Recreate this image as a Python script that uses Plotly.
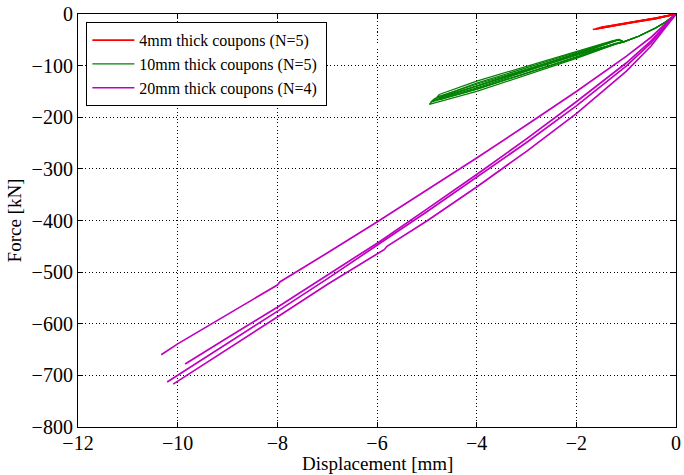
import plotly.graph_objects as go

# ---------------- data ----------------
# 4 mm coupons (N=5): displacement [mm], force [kN]
red_x = [
    [0, -0.20, -0.40, -0.80, -1.20, -1.67],
    [0, -0.20, -0.40, -0.80, -1.20, -1.62],
    [0, -0.20, -0.40, -0.80, -1.20, -1.55],
    [0, -0.20, -0.40, -0.80, -1.20, -1.60],
    [0, -0.20, -0.40, -0.80, -1.20, -1.50],
]
red_y = [
    [0, -4.5, -8.0, -14.5, -21.0, -30.0],
    [0, -4.8, -8.5, -15.0, -22.0, -29.5],
    [0, -4.5, -8.0, -14.0, -20.5, -27.0],
    [0, -5.0, -9.0, -15.5, -22.0, -28.5],
    [0, -4.8, -8.5, -14.5, -21.0, -26.0],
]

# 10 mm coupons (N=5): loading out and unloading back
green_x = [
    [0, -0.20, -0.41, -0.75, -1.05, -1.20, -2.0, -3.0, -4.0, -4.95, -4.90, -4.0, -3.0, -2.0, -1.30, -1.15, -1.05],
    [0, -0.20, -0.41, -0.75, -1.05, -1.22, -2.0, -3.0, -4.0, -4.92, -4.86, -4.0, -3.0, -2.0, -1.30, -1.17, -1.05],
    [0, -0.20, -0.41, -0.75, -1.05, -1.18, -2.0, -3.0, -4.0, -4.80, -4.75, -4.0, -3.0, -2.0, -1.28, -1.14, -1.05],
    [0, -0.20, -0.41, -0.75, -1.05, -1.20, -2.0, -3.0, -4.0, -4.75, -4.70, -4.0, -3.0, -2.0, -1.30, -1.16, -1.05],
    [0, -0.20, -0.41, -0.75, -1.05, -1.21, -2.0, -3.0, -4.0, -4.88, -4.83, -4.0, -3.0, -2.0, -1.30, -1.15, -1.05],
]
green_y = [
    [0, -15, -27, -43, -54, -58, -86, -118, -150, -175, -169, -143, -111, -79, -55, -50, -54],
    [0, -15, -27, -43, -54, -57, -83, -114, -145, -171, -165, -139, -108, -77, -54, -50, -54],
    [0, -15, -27, -43, -54, -57, -78, -107, -136, -161, -156, -130, -101, -72, -52, -49, -54],
    [0, -15, -27, -43, -54, -58, -84, -115, -146, -166, -160, -140, -109, -78, -55, -50, -54],
    [0, -15, -27, -43, -54, -58, -80, -110, -140, -168, -163, -134, -104, -74, -53, -49, -54],
]

# 20 mm coupons (N=4)
mag_x = [
    [0, -0.5, -1.0, -2.0, -3.0, -4.0, -5.0, -6.0, -7.0, -7.95, -8.0, -9.0, -10.0, -10.33],
    [0, -0.5, -1.0, -2.0, -3.0, -4.0, -5.0, -5.90, -5.95, -7.0, -8.0, -9.0, -9.85],
    [0, -0.5, -1.0, -2.0, -3.0, -4.0, -5.0, -6.0, -7.0, -8.0, -9.0, -10.0, -10.21],
    [0, -0.5, -1.0, -2.0, -3.0, -4.0, -5.0, -5.80, -5.85, -7.0, -8.0, -9.0, -10.09],
]
mag_y = [
    [0, -45, -82, -150, -215, -279, -341, -403, -463, -519, -525, -582, -639, -660],
    [0, -52, -95, -170, -242, -311, -378, -437, -441, -506, -568, -627, -678],
    [0, -56, -101, -178, -249, -316, -383, -448, -513, -576, -638, -700, -713],
    [0, -62, -111, -193, -266, -335, -401, -450, -456, -524, -587, -650, -717],
]

legend_names = ["4mm thick coupons (N=5)", "10mm thick coupons (N=5)", "20mm thick coupons (N=4)"]
x_ticks = [-12, -10, -8, -6, -4, -2, 0]
y_ticks = [-800, -700, -600, -500, -400, -300, -200, -100, 0]
x_title = "Displacement [mm]"
y_title = "Force [kN]"

# ---------------- figure ----------------
fig = go.Figure()
groups = [
    (red_x, red_y, "#ff0000", legend_names[0]),
    (green_x, green_y, "#008000", legend_names[1]),
    (mag_x, mag_y, "#bf00bf", legend_names[2]),
]
for gi, (xs, ys, col, name) in enumerate(groups):
    for i, (xx, yy) in enumerate(zip(xs, ys)):
        fig.add_trace(go.Scatter(
            x=xx, y=yy, mode="lines", name=name + "\u00a0", legendgroup=name,
            showlegend=(i == 0), line=dict(color=col, width=1.2 if gi == 1 else 1.7),
        ))

font_family = "Liberation Serif, Times New Roman, serif"
axis_common = dict(
    showline=True, linecolor="black", linewidth=1.2, mirror="ticks",
    ticks="inside", ticklen=5, tickcolor="black", tickwidth=1,
    showgrid=True, gridcolor="black", gridwidth=1, griddash="1px,2.5px",
    zeroline=False, tickfont=dict(family=font_family, size=20, color="black"),
    ticklabeloverflow="allow",
)
fig.update_xaxes(range=[-12, 0], tickvals=x_ticks, ticklabelstandoff=-2, **axis_common)
fig.update_yaxes(range=[-800, 0], tickvals=y_ticks, ticklabelstandoff=0,
                 title=dict(text=y_title, font=dict(family=font_family, size=19, color="black"), standoff=4),
                 **axis_common)

fig.add_annotation(
    text=x_title, xref="paper", yref="paper", x=0.5, y=-0.089,
    xanchor="center", yanchor="middle", showarrow=False,
    font=dict(family=font_family, size=19, color="black"),
)

fig.update_layout(
    width=684, height=475,
    margin=dict(l=78, r=3, t=13, b=48),
    paper_bgcolor="white", plot_bgcolor="white",
    font=dict(family=font_family, color="black"),
    legend=dict(
        x=0.014, y=0.98, xanchor="left", yanchor="top",
        bgcolor="white", bordercolor="black", borderwidth=1,
        font=dict(family=font_family, size=16, color="black"),
        tracegroupgap=0, itemwidth=42,
    ),
)

fig.write_html("out.html")
